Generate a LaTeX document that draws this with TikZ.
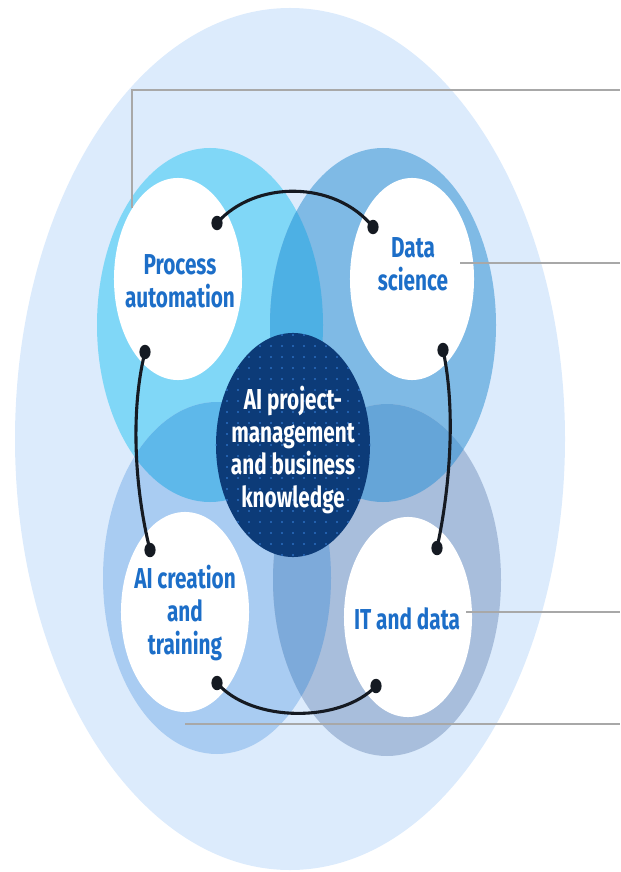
\documentclass[tikz,border=0pt]{standalone}
\usepackage{fontspec}
\newfontfamily\capfont[FakeStretch=0.72]{Fira Sans}
\usetikzlibrary{shapes.geometric,calc}
\definecolor{paper}{HTML}{DCEBFC}
\definecolor{pacol}{HTML}{80D7F7}
\definecolor{dscol}{HTML}{7FBAE5}
\definecolor{accol}{HTML}{A9CCF2}
\definecolor{itcol}{HTML}{A8BEDC}
\definecolor{padscol}{HTML}{4DB0E4}
\definecolor{paaccol}{HTML}{5EB8EA}
\definecolor{dsitcol}{HTML}{65A5D8}
\definecolor{acitcol}{HTML}{7DAADA}
\definecolor{navy}{HTML}{0C3B78}
\definecolor{speck}{HTML}{2C6EC0}
\definecolor{capblue}{HTML}{1C6EC8}
\definecolor{leadgray}{HTML}{A8A8A8}
\definecolor{arcblack}{HTML}{151A22}
\tikzset{
    paring/.style={insert path={(210,325) ellipse [x radius=113, y radius=177]}},
    dsring/.style={insert path={(383,325) ellipse [x radius=113, y radius=177]}},
    acring/.style={insert path={(217,578) ellipse [x radius=114, y radius=176]}},
    itring/.style={insert path={(387,580) ellipse [x radius=114, y radius=176]}},
}

\begin{document}
\begin{tikzpicture}[x=0.025cm,y=-0.025cm,
hole/.style={ellipse, fill=white, inner sep=0pt},
capt/.style={font=\capfont\bfseries\fontsize{20.5}{23.4}\selectfont, text=capblue, align=center, inner sep=0pt},
knob/.style={ellipse, fill=arcblack, inner sep=0pt, minimum width=0.28cm, minimum height=0.36cm},
link/.style={draw=arcblack, line width=2.2pt},
leader/.style={draw=leadgray, line width=1.4pt},
]
\useasboundingbox (0,0) rectangle (620,872);

\fill[paper] (290,439) ellipse [x radius=275, y radius=431];

\fill[pacol, paring];
\fill[dscol, dsring];
\fill[accol, acring];
\fill[itcol, itring];
\begin{scope} \clip[paring]; \fill[padscol, dsring]; \fill[paaccol, acring]; \end{scope}
\begin{scope} \clip[itring]; \fill[dsitcol, dsring]; \fill[acitcol, acring]; \end{scope}

\node[hole, minimum width=3.2cm, minimum height=5.05cm] (pa) at (178,279) {};
\node[hole, minimum width=3.1cm, minimum height=5.05cm] (ds) at (412,279) {};
\node[hole, minimum width=3.2cm, minimum height=5cm] (ac) at (185,612) {};
\node[hole, minimum width=3.2cm, minimum height=5cm] (it) at (408,617) {};

\node[capt] (pa-t) at (180,281) {Process\\automation};
\node[capt] (ds-t) at (413,264) {Data\\science};
\node[capt] (ac-t) at (185,613) {AI creation\\and\\training};
\node[capt] (it-t) at (407,619) {IT and data};

\node[ellipse, fill=navy, inner sep=0pt, minimum width=3.85cm, minimum height=5.6cm,
  path picture={
    \foreach \i in {-7,...,7}
      \foreach \j in {-10,...,10}
        \fill[speck] ($(path picture bounding box.center)+(\i*11,\j*11)$) circle[radius=1.1];
  }] (core) at (293,445) {};
\node[capt, text=white] (core-t) at (293,450) {AI project-\\management\\and business\\knowledge};

\coordinate (pa-end) at (620,90);
\coordinate (ds-lead) at (460,263);
\coordinate (ds-end) at (620,263);
\coordinate (it-lead) at (466,612);
\coordinate (it-end) at (620,612);
\coordinate (ac-lead) at (185,724);
\coordinate (ac-end) at (620,724);

\draw[leader] (pa.123) |- (pa-end);
\draw[leader] (ds-lead) -- (ds-end);
\draw[leader] (it-lead) -- (it-end);
\draw[leader] (ac-lead) -- (ac-end);

\node[knob] (pa-n) at (217,223) {};
\node[knob] (ds-n) at (373,227) {};
\node[knob] (pa-s) at (145,352) {};
\node[knob] (ac-n) at (150,550) {};
\node[knob] (ds-s) at (443,350) {};
\node[knob] (it-n) at (437,548) {};
\node[knob] (ac-s) at (217,683) {};
\node[knob] (it-s) at (376,686) {};

\draw[link] (pa-n.center) .. controls +(38,-43) and +(-38,-47) .. (ds-n.center);
\draw[link] (pa-s.center) .. controls +(-15,60) and +(-15,-60) .. (ac-n.center);
\draw[link] (ds-s.center) .. controls +(13,60) and +(13,-60) .. (it-n.center);
\draw[link] (ac-s.center) .. controls +(35,40) and +(-35,37) .. (it-s.center);

\end{tikzpicture}
\end{document}
